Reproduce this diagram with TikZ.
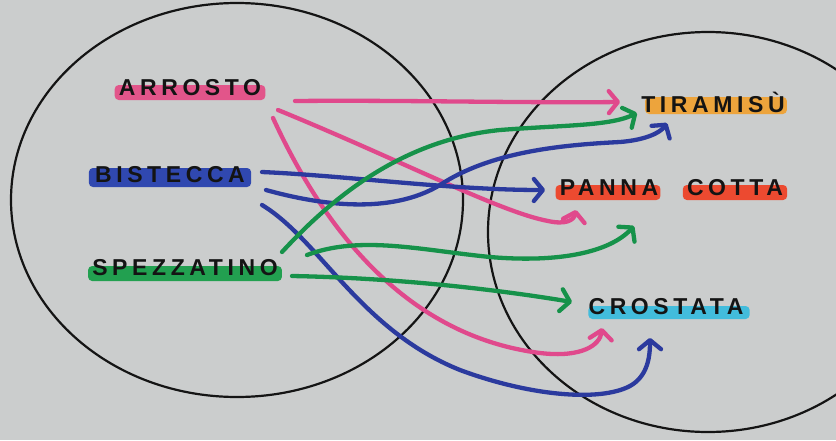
\documentclass[tikz,border=0pt]{standalone}
\usepackage{fontspec}
\setmainfont{Liberation Sans}[LetterSpace=20]
\usetikzlibrary{arrows.meta,calc}
\definecolor{bg}{HTML}{CBCDCD}
\definecolor{pinkc}{HTML}{E0498C}
\definecolor{bluec}{HTML}{2B3A9E}
\definecolor{greenc}{HTML}{16924A}
\definecolor{pinkhl}{HTML}{E2558A}
\definecolor{bluehl}{HTML}{3048B0}
\definecolor{greenhl}{HTML}{22A050}
\definecolor{orangehl}{HTML}{EDA43C}
\definecolor{redhl}{HTML}{EC4A30}
\definecolor{cyanhl}{HTML}{42BCDC}
\definecolor{ink}{HTML}{141414}
\pgfdeclarelayer{back}
\pgfdeclarelayer{hlayer}
\pgfsetlayers{back,hlayer,main}
\tikzset{
  setline/.style={draw=ink, line width=2.2pt},
  word/.style={inner sep=0pt, text=ink, font=\fontsize{23}{23}\selectfont\bfseries},
  conn/.style={line width=4.3pt, line cap=round, line join=round,
    -{Straight Barb[length=9pt,width=22pt,round]}},
  hl/.style={fill=#1, rounded corners=4pt}
}
\begin{document}
\begin{tikzpicture}[x=1pt,y=-1pt]
\begin{pgfonlayer}{back}
\fill[bg] (0,0) rectangle (836,440);
\end{pgfonlayer}
\useasboundingbox (0,0) rectangle (836,440);
\clip (0,0) rectangle (836,440);
% the two sets
\begin{pgfonlayer}{back}
\draw[setline] (237,200) ellipse [x radius=226pt, y radius=197pt];
\draw[setline] (708,232) ellipse [x radius=220pt, y radius=200pt];
\end{pgfonlayer}
% labels
\node[word] (arr) at (190,88) {ARROSTO};
\node[word] (bis) at (170,175) {BISTECCA};
\node[word] (spe) at (185,268) {SPEZZATINO};
\node[word] (tir) at (713,102) {TIRAMISÙ};
\node[word] (pan) at (609,188) {PANNA};
\node[word] (cot) at (735,188) {COTTA};
\node[word] (cro) at (666,307) {CROSTATA};
% highlights
\begin{pgfonlayer}{hlayer}
\fill[hl=pinkhl] ($(arr.west)+(-4,-3)$) rectangle ($(arr.east)+(4,12)$);
\fill[hl=bluehl] ($(bis.west)+(-6,-7)$) rectangle ($(bis.east)+(6,12)$);
\fill[hl=greenhl] ($(spe.west)+(-4,-2)$) rectangle ($(spe.east)+(4,13)$);
\fill[hl=orangehl] ($(tir.west)+(4,-5)$) rectangle ($(tir.east)+(2,12)$);
\fill[hl=redhl] ($(pan.west)+(-4,-3)$) rectangle ($(pan.east)+(2,12)$);
\fill[hl=redhl] ($(cot.west)+(-4,-3)$) rectangle ($(cot.east)+(4,12)$);
\fill[hl=cyanhl] ($(cro.west)+(0,-1)$) rectangle ($(cro.east)+(6,12)$);
\end{pgfonlayer}
% pink arrows (ARROSTO)
\draw[conn, pinkc] ([shift={(105,13)}]arr.center) .. controls (400,100) and (520,103) .. ([shift={(-93,0)}]tir.center);
\draw[conn, pinkc] ([shift={(88,22)}]arr.center) .. controls (400,160) and (500,212) .. (548,221) .. controls (566,225) and (574,220) .. ([shift={(-33,22)}]pan.center);
\draw[conn, pinkc] ([shift={(83,30)}]arr.center) .. controls (320,220) and (400,335) .. (540,353) .. controls (582,358) and (600,345) .. ([shift={(-64,21)}]cro.center);
% blue arrows (BISTECCA)
\draw[conn, bluec] ([shift={(92,-3)}]bis.center) .. controls (350,176) and (450,190) .. ([shift={(-64,2)}]pan.center);
\draw[conn, bluec] ([shift={(96,15)}]bis.center) .. controls (320,205) and (390,215) .. (440,185) .. controls (490,152) and (560,145) .. (620,142) .. controls (645,140) and (660,133) .. ([shift={(-46,21)}]tir.center);
\draw[conn, bluec] ([shift={(92,30)}]bis.center) .. controls (320,240) and (360,330) .. (460,370) .. controls (530,396) and (600,402) .. (630,386) .. controls (648,376) and (650,356) .. ([shift={(-16,31)}]cro.center);
% green arrows (SPEZZATINO)
\draw[conn, greenc] ([shift={(97,-16)}]spe.center) .. controls (330,200) and (400,140) .. (500,130) .. controls (565,125) and (610,126) .. ([shift={(-76,11)}]tir.center);
\draw[conn, greenc] ([shift={(122,-13)}]spe.center) .. controls (360,235) and (420,250) .. (490,257) .. controls (560,263) and (610,252) .. ([shift={(25,38)}]pan.center);
\draw[conn, greenc] ([shift={(107,8)}]spe.center) .. controls (400,278) and (500,290) .. ([shift={(-94,-5)}]cro.center);
\end{tikzpicture}
\end{document}
